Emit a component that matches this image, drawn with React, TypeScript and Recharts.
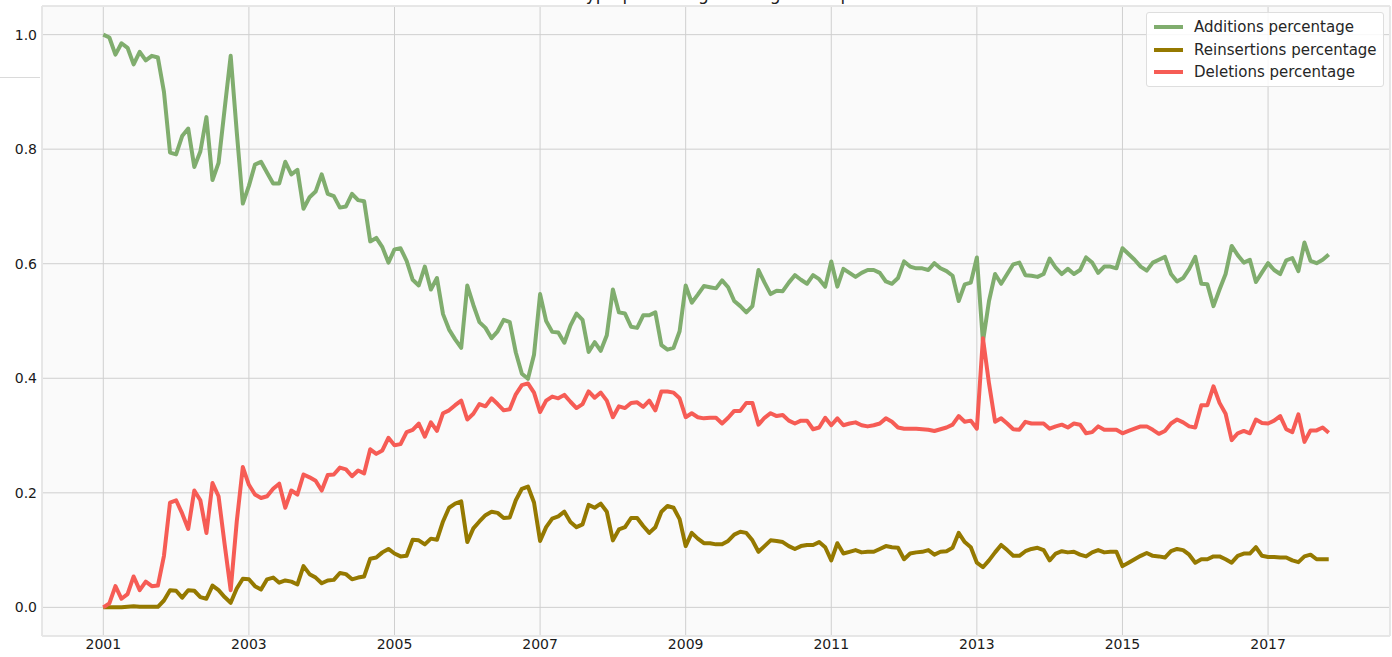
import { LineChart, Line, XAxis, YAxis, CartesianGrid } from 'recharts';

// monthly series, first point is January 2001
const START_YEAR = 2001;

const additions = [
  1.0, 0.995, 0.965, 0.985, 0.977, 0.948, 0.97, 0.955, 0.963, 0.96, 0.9, 0.794,
  0.791, 0.823, 0.836, 0.769, 0.796, 0.856, 0.746, 0.776, 0.87, 0.963, 0.83, 0.705,
  0.736, 0.773, 0.778, 0.759, 0.74, 0.74, 0.778, 0.756, 0.764, 0.696, 0.716, 0.726,
  0.756, 0.722, 0.718, 0.698, 0.7, 0.722, 0.711, 0.709, 0.639, 0.645, 0.629, 0.602,
  0.625, 0.627, 0.605, 0.572, 0.562, 0.595, 0.555, 0.575, 0.512, 0.485, 0.468, 0.453,
  0.562, 0.528, 0.498, 0.488, 0.47, 0.482, 0.502, 0.498, 0.445, 0.408, 0.399, 0.441,
  0.547, 0.5, 0.481, 0.48, 0.462, 0.492, 0.513, 0.502, 0.446, 0.463, 0.448, 0.475,
  0.555, 0.515, 0.513, 0.49, 0.488, 0.51, 0.51, 0.515, 0.458, 0.45, 0.453, 0.482,
  0.562, 0.532, 0.546, 0.561, 0.559, 0.557, 0.571, 0.559, 0.535, 0.526, 0.515, 0.526,
  0.589, 0.567, 0.547, 0.553, 0.552, 0.567, 0.58, 0.572, 0.565, 0.58, 0.573, 0.56,
  0.604, 0.56, 0.591, 0.584, 0.577, 0.584, 0.589, 0.589, 0.584, 0.569, 0.565, 0.575,
  0.604, 0.595, 0.592, 0.592, 0.589, 0.601, 0.592, 0.587, 0.579, 0.535, 0.564, 0.567,
  0.611, 0.464, 0.535, 0.582, 0.565, 0.582, 0.599, 0.602, 0.58, 0.579, 0.577, 0.582,
  0.609, 0.593, 0.582, 0.591, 0.582, 0.589, 0.611, 0.602, 0.584, 0.595, 0.595, 0.592,
  0.627, 0.617, 0.607, 0.595, 0.588, 0.602, 0.607, 0.612, 0.582, 0.569, 0.575, 0.591,
  0.612, 0.565, 0.564, 0.526, 0.555, 0.582, 0.631, 0.615, 0.602, 0.607, 0.568, 0.585,
  0.601, 0.589, 0.582, 0.606, 0.61, 0.587, 0.637, 0.605, 0.601, 0.607, 0.616,
];

const reinsertions = [
  0.0, 0.0, 0.0, 0.0, 0.001, 0.002, 0.001, 0.001, 0.001, 0.001, 0.012, 0.03,
  0.029, 0.017, 0.03, 0.029, 0.018, 0.015, 0.038, 0.03, 0.018, 0.008, 0.033, 0.05,
  0.049, 0.037, 0.031, 0.049, 0.052, 0.043, 0.047, 0.045, 0.04, 0.072, 0.058, 0.052,
  0.042, 0.047, 0.048, 0.06, 0.058, 0.049, 0.052, 0.054, 0.085, 0.087, 0.096, 0.102,
  0.094, 0.089, 0.09, 0.118, 0.117, 0.11, 0.12, 0.118, 0.15, 0.174, 0.181, 0.185,
  0.114, 0.138, 0.15, 0.161, 0.167, 0.165, 0.156, 0.157, 0.187, 0.207, 0.211, 0.183,
  0.116, 0.14, 0.155, 0.159, 0.167, 0.149, 0.14, 0.145, 0.179, 0.174, 0.181, 0.167,
  0.117, 0.136, 0.14, 0.156, 0.156, 0.142, 0.13, 0.14, 0.167, 0.177, 0.174, 0.154,
  0.107, 0.13, 0.12, 0.112, 0.112, 0.11, 0.11, 0.116, 0.127, 0.132, 0.13, 0.117,
  0.097, 0.107, 0.117, 0.116, 0.114, 0.107, 0.102, 0.107, 0.109, 0.109, 0.114, 0.105,
  0.082, 0.112, 0.094, 0.097, 0.1, 0.096, 0.097, 0.097, 0.102, 0.107, 0.105, 0.104,
  0.084, 0.094, 0.096, 0.097, 0.1, 0.092, 0.097, 0.098, 0.104, 0.13, 0.114, 0.105,
  0.078, 0.07, 0.082, 0.096, 0.109, 0.1, 0.09, 0.09, 0.098, 0.102, 0.104, 0.1,
  0.082, 0.094, 0.098, 0.096, 0.097, 0.092, 0.089, 0.096, 0.1, 0.096, 0.097, 0.097,
  0.072, 0.078, 0.084, 0.09, 0.095, 0.09, 0.089, 0.087, 0.098, 0.102, 0.1, 0.092,
  0.078, 0.084, 0.084, 0.089, 0.089, 0.084, 0.078, 0.09, 0.094, 0.094, 0.105, 0.09,
  0.088, 0.088, 0.087, 0.087, 0.082, 0.079, 0.089, 0.092, 0.084, 0.084, 0.084,
];

const deletions = [
  0.0, 0.007, 0.037, 0.015, 0.023, 0.054, 0.03, 0.045, 0.037, 0.038, 0.09, 0.183,
  0.187, 0.164, 0.137, 0.204, 0.187, 0.13, 0.217, 0.194, 0.11, 0.03, 0.15, 0.245,
  0.214, 0.197, 0.191, 0.194, 0.207, 0.216, 0.174, 0.204, 0.197, 0.232, 0.227, 0.221,
  0.204, 0.231, 0.232, 0.244, 0.241, 0.229, 0.239, 0.234, 0.276, 0.268, 0.274, 0.296,
  0.283, 0.285, 0.306, 0.31, 0.321, 0.298, 0.323, 0.308, 0.339, 0.344, 0.353, 0.361,
  0.328, 0.338, 0.355, 0.351, 0.365, 0.355, 0.344, 0.346, 0.372, 0.388, 0.391, 0.375,
  0.341, 0.361, 0.368, 0.365, 0.371, 0.359, 0.348, 0.355, 0.377, 0.366, 0.375, 0.361,
  0.332, 0.351, 0.348, 0.357, 0.358, 0.35, 0.361, 0.344, 0.377, 0.377, 0.375, 0.365,
  0.332, 0.339, 0.332, 0.33, 0.331, 0.331, 0.321, 0.331, 0.343, 0.343, 0.357, 0.357,
  0.319, 0.331, 0.339, 0.334, 0.336, 0.326, 0.321, 0.326, 0.326, 0.311, 0.314, 0.331,
  0.318, 0.33, 0.318, 0.321, 0.323, 0.318, 0.316, 0.318, 0.321, 0.33, 0.324, 0.314,
  0.312, 0.312, 0.312, 0.311, 0.31, 0.308, 0.311, 0.314, 0.319, 0.334, 0.324, 0.326,
  0.312, 0.47, 0.391, 0.324, 0.33, 0.321, 0.311, 0.31, 0.324, 0.321, 0.321, 0.321,
  0.312, 0.316, 0.319, 0.314, 0.321, 0.319, 0.304, 0.306, 0.316, 0.31, 0.31, 0.31,
  0.304, 0.308, 0.312, 0.316, 0.316, 0.31, 0.303, 0.308, 0.321, 0.328, 0.323, 0.316,
  0.314, 0.353, 0.353, 0.386, 0.357, 0.338, 0.292, 0.304, 0.308, 0.304, 0.328, 0.322,
  0.321, 0.326, 0.334, 0.311, 0.306, 0.337, 0.289, 0.309, 0.309, 0.314, 0.305,
];

const yearTicks = [2001, 2003, 2005, 2007, 2009, 2011, 2013, 2015, 2017];
const valueTicks = [0, 0.2, 0.4, 0.6, 0.8, 1.0];

const TITLE = 'Revision type percentage through time per month';

const GREEN = '#80ad6e';
const OLIVE = '#957900';
const RED = '#f65c55';

const series = [
  { key: 'additions', name: 'Additions percentage', color: GREEN },
  { key: 'reinsertions', name: 'Reinsertions percentage', color: OLIVE },
  { key: 'deletions', name: 'Deletions percentage', color: RED },
];

const data = additions.map((a, i) => ({
  t: START_YEAR + i / 12,
  additions: a,
  reinsertions: reinsertions[i],
  deletions: deletions[i],
}));

const FONT = '"DejaVu Sans", sans-serif';
const tickStyle = { fontSize: 14, fill: '#1a1a1a', fontFamily: FONT };

function LegendBox() {
  return (
    <div
      style={{
        position: 'absolute',
        left: 1146,
        top: 12,
        width: 238,
        height: 75,
        boxSizing: 'border-box',
        background: 'rgba(255,255,255,0.85)',
        border: '1px solid #dedede',
        borderRadius: 3,
        padding: '3px 0 0 7px',
        fontFamily: FONT,
        fontSize: 15,
        color: '#262626',
      }}
    >
      {series.map((s) => (
        <div key={s.key} style={{ display: 'flex', alignItems: 'center', height: 22.5 }}>
          <span style={{ display: 'inline-block', width: 29, height: 4, background: s.color, marginRight: 11 }} />
          <span>{s.name}</span>
        </div>
      ))}
    </div>
  );
}

export default function App() {
  return (
    <div style={{ position: 'absolute', left: 0, top: 0, width: 1392, height: 657, background: '#fff', overflow: 'hidden' }}>
      {/* stray frame edge at top-left of the screenshot */}
      <div style={{ position: 'absolute', left: 0, top: 0, width: 40, height: 77, borderBottom: '1px solid #dadada' }} />
      {/* title is cut off by the top of the screenshot, only its lowest pixels show */}
      <div
        style={{
          position: 'absolute',
          left: 0,
          width: 1432,
          top: -16,
          textAlign: 'center',
          fontFamily: FONT,
          fontSize: 17,
          lineHeight: '20px',
          color: '#222',
        }}
      >
        {TITLE}
      </div>
      <LineChart width={1392} height={657} data={data} margin={{ top: 6, right: 2, left: 0, bottom: 0 }}>
        <CartesianGrid stroke="#cfcfcf" strokeWidth={1} fill="#fafafa" />
        <XAxis
          dataKey="t"
          type="number"
          domain={[2000.158, 2018.675]}
          ticks={yearTicks}
          allowDataOverflow
          height={21}
          tickSize={0}
          tickMargin={3}
          axisLine={false}
          tick={tickStyle}
          tickFormatter={(v) => String(v)}
        />
        <YAxis
          type="number"
          domain={[-0.05, 1.05]}
          ticks={valueTicks}
          allowDataOverflow
          width={42}
          tickSize={0}
          tickMargin={5}
          axisLine={false}
          tick={tickStyle}
          tickFormatter={(v) => v.toFixed(1)}
        />
        {series.map((s) => (
          <Line
            key={s.key}
            type="linear"
            dataKey={s.key}
            name={s.name}
            stroke={s.color}
            strokeWidth={4}
            strokeLinejoin="round"
            dot={false}
            isAnimationActive={false}
          />
        ))}
      </LineChart>
      <div style={{ position: 'absolute', left: 42, top: 6, width: 1348, height: 630, border: '1px solid #e6e6e6', boxSizing: 'border-box', pointerEvents: 'none' }} />
      <LegendBox />
    </div>
  );
}
